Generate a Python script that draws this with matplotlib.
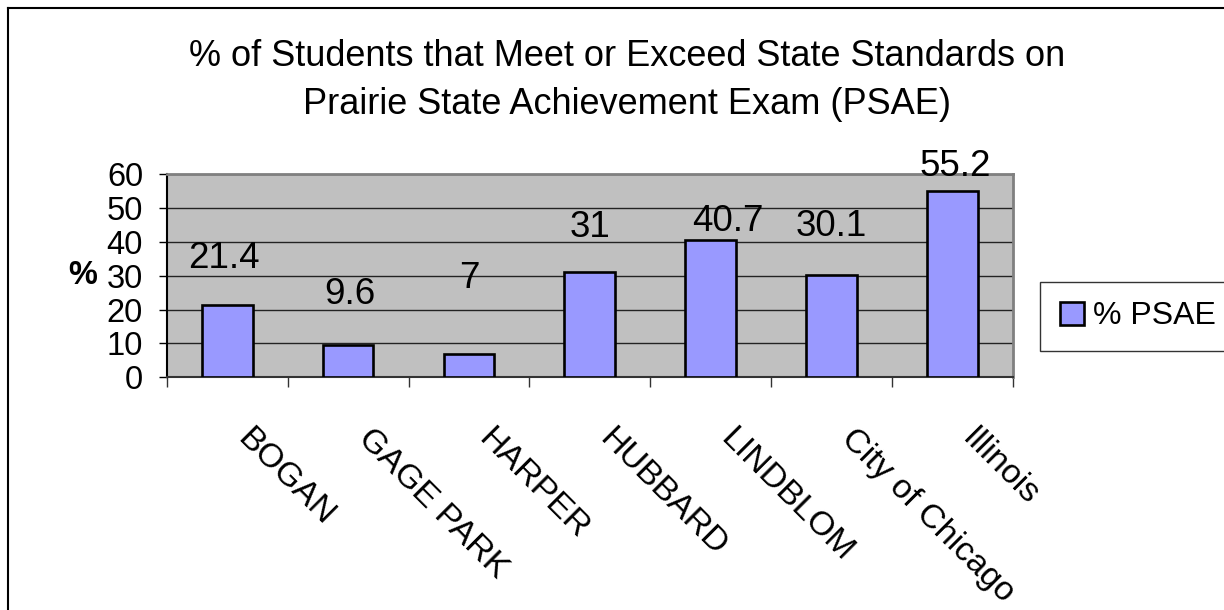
import matplotlib
matplotlib.use("Agg")
import matplotlib.pyplot as plt
from matplotlib.lines import Line2D
from matplotlib.patches import Patch

plt.rcParams['font.family'] = ['Liberation Sans', 'DejaVu Sans']

# chart data
schools = ["BOGAN", "GAGE PARK", "HARPER", "HUBBARD", "LINDBLOM", "City of Chicago", "Illinois"]
psae = [21.4, 9.6, 7, 31, 40.7, 30.1, 55.2]
series_name = "% PSAE"
title = "% of Students that Meet or Exceed State Standards on\nPrairie State Achievement Exam (PSAE)"

bar_color = "#9999FF"
# label lift above each bar (points) - labels were hand placed in the original
label_lift = [33.5, 36, 54, 32.5, 13, 35.5, 17.5]
label_shift = [-2, 1, 0, 0, 12, 0, 2]

fig = plt.figure(figsize=(12.24, 6.1), dpi=100)
ax = fig.add_axes([0.1362, 0.3815, 0.6914, 0.3328])
ax.set_facecolor("#C0C0C0")

x = list(range(len(schools)))
ax.bar(x, psae, width=0.42, color=bar_color, edgecolor="black", linewidth=1.9, zorder=3)

ax.set_xlim(-0.5, len(schools) - 0.5)
ax.set_ylim(0, 60)
ax.set_yticks(range(0, 61, 10))
ax.yaxis.grid(True, color="#222222", linewidth=1.0, zorder=1)
ax.tick_params(axis="y", labelsize=23.5, length=6, width=1, pad=11, colors="black")

# category boundary ticks on x axis
ax.set_xticks([i - 0.5 for i in range(len(schools) + 1)])
ax.set_xticklabels([])
ax.tick_params(axis="x", length=7, width=1, color="#333333")

for side in ["top", "right"]:
    ax.spines[side].set_color("#808080")
    ax.spines[side].set_linewidth(2)
ax.spines["left"].set_color("black")
ax.spines["left"].set_linewidth(1.5)
ax.spines["bottom"].set_color("#333333")
ax.spines["bottom"].set_linewidth(1.5)

# value labels
for i, v in zip(x, psae):
    ax.annotate(str(v), xy=(i, v), xytext=(label_shift[i], label_lift[i]), textcoords="offset points",
                ha="center", va="center", fontsize=26.5, zorder=4)

# rotated category labels
for i, name in zip(x, schools):
    ax.annotate(name, xy=(i, 0), xytext=(18.5, -33), textcoords="offset points",
                rotation=-45, rotation_mode="anchor", ha="left", va="top",
                fontsize=24.5, annotation_clip=False)

ax.set_ylabel("%", fontsize=23.5, fontweight="bold", rotation=0, labelpad=17, va="center")

fig.text(0.512, 0.868, title, ha="center", va="center", fontsize=26, linespacing=1.45)

# legend box runs past the right edge of the picture in the original
leg = fig.legend(handles=[Patch(facecolor=bar_color, edgecolor="black", linewidth=1.9, label=series_name)],
                 loc="center left", bbox_to_anchor=(1040 / 1224, 1 - 316.5 / 610),
                 fontsize=23, frameon=True, fancybox=False, borderpad=0.62,
                 handlelength=0.75, handleheight=0.75, handletextpad=0.3, borderaxespad=0)
leg.get_frame().set_edgecolor("black")
leg.get_frame().set_linewidth(1)

# outer chart border (partly cropped)
fig.add_artist(Line2D([8 / 1224, 8 / 1224], [0, 1 - 8 / 610], color="black", linewidth=1.5))
fig.add_artist(Line2D([8 / 1224, 1], [1 - 8 / 610, 1 - 8 / 610], color="black", linewidth=1.5))

fig.savefig("out.png", dpi=100)
